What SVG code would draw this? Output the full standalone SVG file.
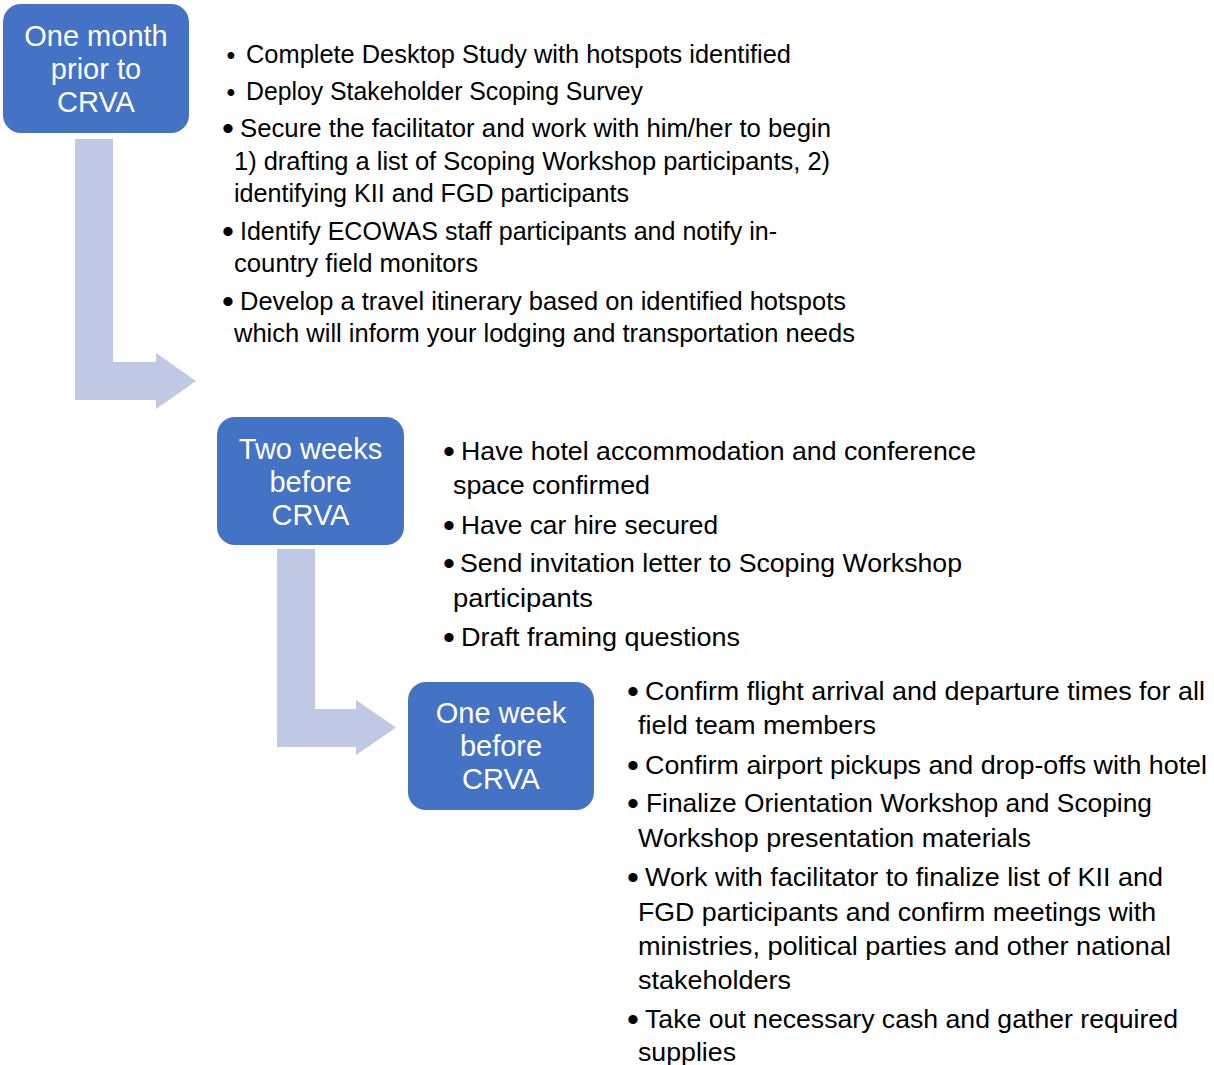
<svg xmlns="http://www.w3.org/2000/svg" width="1214" height="1065" viewBox="0 0 1214 1065">
<style>
.box{fill:#4472C4;}
.arrow{fill:#BFC9E4;}
.bt{font-family:"Liberation Sans",Arial,sans-serif;font-size:29px;fill:#FFFFFF;text-anchor:middle;}
.t1{font-family:"Liberation Sans",Arial,sans-serif;font-size:25px;fill:#000000;}
.t2{font-family:"Liberation Sans",Arial,sans-serif;font-size:26px;fill:#000000;}
.b{font-family:"Liberation Sans",Arial,sans-serif;font-size:34px;fill:#000000;text-anchor:middle;}
.bs{font-family:"Liberation Sans",Arial,sans-serif;font-size:25px;fill:#000000;text-anchor:middle;}
</style>
<rect width="1214" height="1065" fill="#FFFFFF"/>
<g id="connectors">
<path class="arrow" d="M75,139 H113 V362 H156 V353 L196,381 L156,409 V400 H75 Z"/>
<path class="arrow" d="M277,549 H315 V709 H356 V700 L396,727.5 L356,755 V747 H277 Z"/>
</g>
<g id="node-one-month">
<rect class="box" x="3" y="4" width="186" height="129" rx="18"/>
<text class="bt" x="96" y="46">One month</text>
<text class="bt" x="96" y="79">prior to</text>
<text class="bt" x="96" y="112">CRVA</text>
</g>
<g id="node-two-weeks">
<rect class="box" x="217" y="417" width="187" height="128" rx="18"/>
<text class="bt" x="310.5" y="459">Two weeks</text>
<text class="bt" x="310.5" y="492">before</text>
<text class="bt" x="310.5" y="525">CRVA</text>
</g>
<g id="node-one-week">
<rect class="box" x="408" y="682" width="186" height="128" rx="18"/>
<text class="bt" x="501" y="723">One week</text>
<text class="bt" x="501" y="756">before</text>
<text class="bt" x="501" y="789">CRVA</text>
</g>
<g id="list-one-month">
<text class="bs" x="231" y="64">•</text>
<text class="t1" x="246" y="63" textLength="545" lengthAdjust="spacingAndGlyphs">Complete Desktop Study with hotspots identified</text>
<text class="bs" x="231" y="101">•</text>
<text class="t1" x="246" y="100" textLength="397" lengthAdjust="spacingAndGlyphs">Deploy Stakeholder Scoping Survey</text>
<text class="b" x="228" y="140">•</text>
<text class="t1" x="240" y="137" textLength="591" lengthAdjust="spacingAndGlyphs">Secure the facilitator and work with him/her to begin</text>
<text class="t1" x="234" y="170" textLength="596" lengthAdjust="spacingAndGlyphs">1) drafting a list of Scoping Workshop participants, 2)</text>
<text class="t1" x="234" y="202" textLength="395" lengthAdjust="spacingAndGlyphs">identifying KII and FGD participants</text>
<text class="b" x="228" y="243">•</text>
<text class="t1" x="240" y="240" textLength="537" lengthAdjust="spacingAndGlyphs">Identify ECOWAS staff participants and notify in-</text>
<text class="t1" x="234" y="272" textLength="244" lengthAdjust="spacingAndGlyphs">country field monitors</text>
<text class="b" x="228" y="313">•</text>
<text class="t1" x="240" y="310" textLength="606" lengthAdjust="spacingAndGlyphs">Develop a travel itinerary based on identified hotspots</text>
<text class="t1" x="234" y="342" textLength="621" lengthAdjust="spacingAndGlyphs">which will inform your lodging and transportation needs</text>
</g>
<g id="list-two-weeks">
<text class="b" x="449" y="463">•</text>
<text class="t2" x="461" y="460" textLength="515" lengthAdjust="spacingAndGlyphs">Have hotel accommodation and conference</text>
<text class="t2" x="453" y="494" textLength="197" lengthAdjust="spacingAndGlyphs">space confirmed</text>
<text class="b" x="449" y="537">•</text>
<text class="t2" x="461" y="534" textLength="257" lengthAdjust="spacingAndGlyphs">Have car hire secured</text>
<text class="b" x="449" y="575">•</text>
<text class="t2" x="460" y="572" textLength="502" lengthAdjust="spacingAndGlyphs">Send invitation letter to Scoping Workshop</text>
<text class="t2" x="453" y="607" textLength="140" lengthAdjust="spacingAndGlyphs">participants</text>
<text class="b" x="449" y="649">•</text>
<text class="t2" x="461" y="646" textLength="279" lengthAdjust="spacingAndGlyphs">Draft framing questions</text>
</g>
<g id="list-one-week">
<text class="b" x="633" y="703">•</text>
<text class="t2" x="645" y="700" textLength="560" lengthAdjust="spacingAndGlyphs">Confirm flight arrival and departure times for all</text>
<text class="t2" x="638" y="734" textLength="238" lengthAdjust="spacingAndGlyphs">field team members</text>
<text class="b" x="633" y="777">•</text>
<text class="t2" x="645" y="774" textLength="562" lengthAdjust="spacingAndGlyphs">Confirm airport pickups and drop-offs with hotel</text>
<text class="b" x="633" y="815">•</text>
<text class="t2" x="646" y="812" textLength="506" lengthAdjust="spacingAndGlyphs">Finalize Orientation Workshop and Scoping</text>
<text class="t2" x="638" y="847" textLength="393" lengthAdjust="spacingAndGlyphs">Workshop presentation materials</text>
<text class="b" x="633" y="889">•</text>
<text class="t2" x="645" y="886" textLength="518" lengthAdjust="spacingAndGlyphs">Work with facilitator to finalize list of KII and</text>
<text class="t2" x="638" y="921" textLength="518" lengthAdjust="spacingAndGlyphs">FGD participants and confirm meetings with</text>
<text class="t2" x="638" y="955" textLength="533" lengthAdjust="spacingAndGlyphs">ministries, political parties and other national</text>
<text class="t2" x="638" y="989" textLength="153" lengthAdjust="spacingAndGlyphs">stakeholders</text>
<text class="b" x="633" y="1031">•</text>
<text class="t2" x="645" y="1028" textLength="533" lengthAdjust="spacingAndGlyphs">Take out necessary cash and gather required</text>
<text class="t2" x="638" y="1061" textLength="98" lengthAdjust="spacingAndGlyphs">supplies</text>
</g>
</svg>
